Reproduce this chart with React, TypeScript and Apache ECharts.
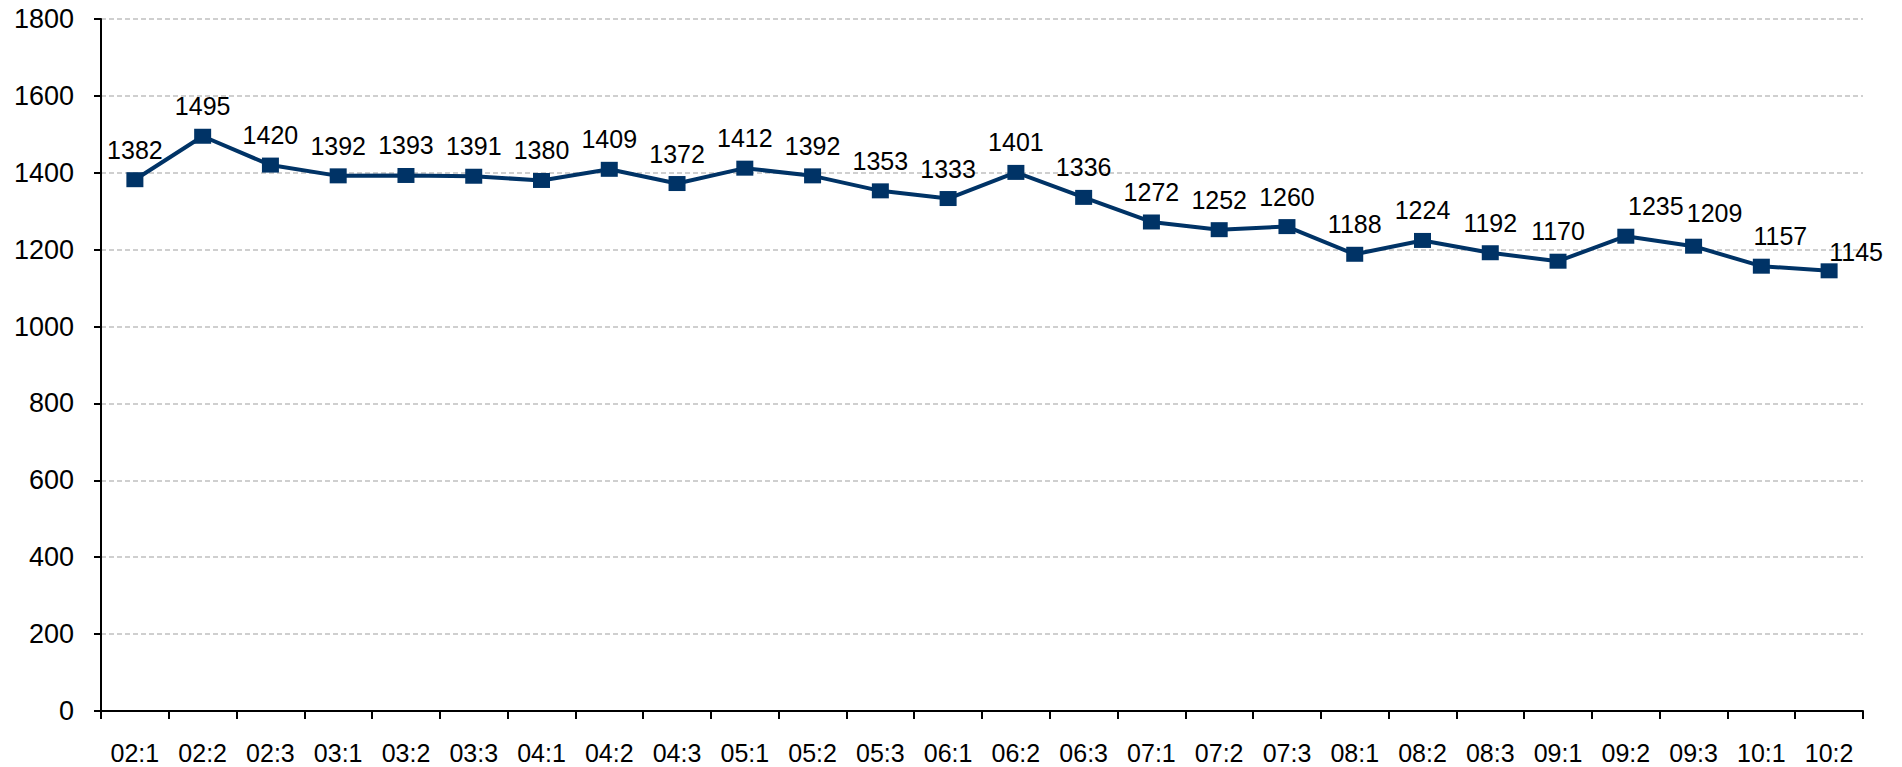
import React, { useEffect, useRef } from "react";
import * as echarts from "echarts";

const categories = [
  "02:1", "02:2", "02:3", "03:1", "03:2", "03:3", "04:1", "04:2", "04:3",
  "05:1", "05:2", "05:3", "06:1", "06:2", "06:3", "07:1", "07:2", "07:3",
  "08:1", "08:2", "08:3", "09:1", "09:2", "09:3", "10:1", "10:2",
];
const values = [
  1382, 1495, 1420, 1392, 1393, 1391, 1380, 1409, 1372,
  1412, 1392, 1353, 1333, 1401, 1336, 1272, 1252, 1260,
  1188, 1224, 1192, 1170, 1235, 1209, 1157, 1145,
];
// label offsets (dx, dy) for manually moved labels, by category
const labelOffsets: Record<string, [number, number]> = {
  "09:2": [30, 0],
  "09:3": [21, -3],
  "10:1": [19, 0],
  "10:2": [27, 11],
};
const yTicks = { min: 0, max: 1800, interval: 200 };

const FONT = "'Liberation Sans', Arial, Helvetica, sans-serif";

export default function App() {
  const ref = useRef<HTMLDivElement>(null);
  useEffect(() => {
    if (!ref.current) return;
    const chart = echarts.init(ref.current, undefined, { renderer: "svg" });
    const data = values.map((v, i) => {
      const off = labelOffsets[categories[i]];
      return off ? { value: v, label: { offset: off } } : { value: v };
    });
    chart.setOption({
      animation: false,
      backgroundColor: "#ffffff",
      grid: { left: 101, right: 39, top: 19, bottom: 56, containLabel: false },
      xAxis: {
        type: "category",
        data: categories,
        boundaryGap: true,
        axisLine: { show: true, lineStyle: { color: "#000", width: 2 } },
        axisTick: { show: true, length: 8, alignWithLabel: false, lineStyle: { color: "#000", width: 2 } },
        axisLabel: { color: "#000", fontSize: 25, fontFamily: FONT, margin: 29, interval: 0 },
        splitLine: { show: false },
      },
      yAxis: {
        type: "value",
        min: yTicks.min,
        max: yTicks.max,
        interval: yTicks.interval,
        axisLine: { show: true, lineStyle: { color: "#000", width: 2 } },
        axisTick: { show: true, length: 7, lineStyle: { color: "#000", width: 2 } },
        axisLabel: {
          color: "#000",
          fontSize: 27,
          fontFamily: FONT,
          margin: 27,
          formatter: (v: number) => String(v),
        },
        splitLine: { show: true, lineStyle: { color: "#c0c0c0", width: 1.5, type: [5, 3] } },
      },
      series: [
        {
          type: "line",
          data,
          symbol: "rect",
          symbolSize: [17, 15],
          itemStyle: { color: "#003366" },
          lineStyle: { color: "#003366", width: 4 },
          label: {
            show: true,
            position: "top",
            distance: 10,
            color: "#000",
            fontSize: 25,
            fontFamily: FONT,
          },
        },
      ],
    });
    return () => chart.dispose();
  }, []);
  return (
    <div
      ref={ref}
      style={{ position: "fixed", left: 0, top: 0, width: 1902, height: 767, background: "#fff" }}
    />
  );
}
